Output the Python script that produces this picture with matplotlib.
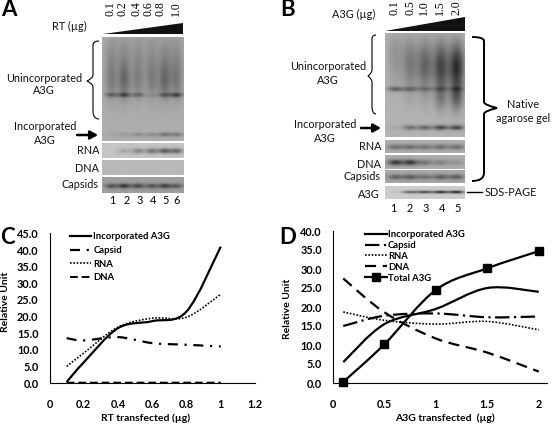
import numpy as np
import matplotlib
matplotlib.use("Agg")
import matplotlib.pyplot as plt
from matplotlib.path import Path
from matplotlib.patches import PathPatch, Polygon

plt.rcParams["font.family"] = ["Lato", "DejaVu Sans"]

# Panel C values
RT_DOSE = [0.1, 0.2, 0.4, 0.6, 0.8, 1.0]
C_INCORP = [0.3, 6.2, 16.5, 18.6, 21.5, 41.0]
C_CAPSID = [13.5, 12.8, 13.8, 12.0, 11.5, 11.0]
C_RNA = [5.0, 9.0, 16.8, 19.5, 19.8, 26.7]
C_DNA = [0.1, 0.1, 0.1, 0.1, 0.1, 0.1]

# Panel D values
A3G_DOSE = [0.1, 0.5, 1.0, 1.5, 2.0]
D_INCORP = [5.5, 15.5, 19.5, 25.0, 24.0]
D_CAPSID = [15.0, 17.7, 18.3, 17.3, 17.5]
D_RNA = [18.7, 16.5, 15.5, 16.2, 14.0]
D_DNA = [27.5, 18.6, 11.7, 8.0, 3.0]
D_TOTAL = [0.3, 10.2, 24.5, 30.2, 34.7]

# Tick labels
C_XTICKS = [0, 0.2, 0.4, 0.6, 0.8, 1.0, 1.2]
C_XLABELS = ["0", "0.2", "0.4", "0.6", "0.8", "1", "1.2"]
C_YTICKS = [0, 5, 10, 15, 20, 25, 30, 35, 40, 45]
D_XTICKS = [0, 0.5, 1.0, 1.5, 2.0]
D_XLABELS = ["0", "0.5", "1", "1.5", "2"]
D_YTICKS = [0, 5, 10, 15, 20, 25, 30, 35, 40]

# Gel dose labels
A_DOSES = ["0.1", "0.2", "0.4", "0.6", "0.8", "1.0"]
B_DOSES = ["0.1", "0.5", "1.0", "1.5", "2.0"]

# Gel band strengths, one per lane (darkness read by eye)
A_SMEAR = [0.18, 0.26, 0.17, 0.18, 0.26, 0.2]
A_FREE = [0.22, 0.3, 0.2, 0.03, 0.22, 0.33]
A_INC = [0.03, 0.07, 0.13, 0.13, 0.22, 0.2]
A_RNA = [0.0, 0.12, 0.25, 0.32, 0.42, 0.36]
A_CAPS = [0.3, 0.42, 0.36, 0.3, 0.38, 0.28]
B_SMEAR = [0.08, 0.2, 0.28, 0.4, 0.5]
B_TAIL = [0.0, 0.03, 0.05, 0.2, 0.3]
B_FREE = [0.3, 0.22, 0.16, 0.14, 0.14]
B_INC = [0.03, 0.26, 0.3, 0.42, 0.42]
B_RNA = [0.25, 0.25, 0.22, 0.25, 0.25]
B_DNA = [0.45, 0.45, 0.22, 0.17, 0.1]
B_CAPS = [0.28, 0.3, 0.22, 0.3, 0.3]
B_SDS = [0.03, 0.45, 0.55, 0.65, 0.7]

A_LANES = [111, 124, 138, 152, 165, 177]
B_LANES = [395, 410, 425, 441, 457]

W, H = 560, 424


# Axes placed by pixel box, y counted from the top
def px_axes(fig, x0, y0, x1, y1):
    return fig.add_axes([x0 / W, 1 - y1 / H, (x1 - x0) / W, (y1 - y0) / H])


# Draws a grey gel strip, bands = (strengths, y center, y sigma, lane sigma)
def gel(pg, box, lanes, base, bands):
    x0, y0, x1, y1 = box
    xx, yy = np.meshgrid(np.arange(x0, x1 + 1), np.arange(y0, y1 + 1))
    img = np.full(xx.shape, float(base))
    for strengths, yc, sy, sx in bands:
        for lx, s in zip(lanes, strengths):
            img -= s * np.exp(-0.5 * ((xx - lx) / sx) ** 2) * np.exp(-0.5 * ((yy - yc) / sy) ** 2)
    pg.imshow(img, cmap="gray", vmin=0, vmax=1, extent=(x0, x1, y1, y0), aspect="auto", interpolation="bilinear")


# Excel style smoothed line, built as bezier segments
def smooth_path(x, y):
    p = np.column_stack([x, y])
    verts = [p[0]]
    codes = [Path.MOVETO]
    for i in range(len(p) - 1):
        prv = p[max(i - 1, 0)]
        nxt = p[min(i + 2, len(p) - 1)]
        verts += [p[i] + (p[i + 1] - prv) / 6, p[i + 1] - (nxt - p[i]) / 6, p[i + 1]]
        codes += [Path.CURVE4] * 3
    return Path(verts, codes)


def add_curve(ax, x, y, label, ls, lw=1.6, marker=None):
    ax.add_patch(PathPatch(smooth_path(x, y), fill=False, ec="k", lw=lw, ls=ls, capstyle="butt", clip_on=False))
    if marker:
        ax.plot(x, y, ls="none", marker=marker, ms=5.5, color="k", clip_on=False, zorder=4)
    ax.plot([], [], color="k", lw=lw, ls=ls, marker=marker, ms=5.5, label=label)


def style_chart(ax, xlim, ylim, xticks, xlabels, yticks):
    ax.patch.set_alpha(0)
    ax.set_xlim(*xlim)
    ax.set_ylim(*ylim)
    ax.spines["top"].set_visible(False)
    ax.spines["right"].set_visible(False)
    ax.set_xticks(xticks, xlabels, fontweight="bold", fontsize=7.8)
    ax.set_yticks(yticks, [f"{v:.1f}" for v in yticks], fontweight="bold", fontsize=7.8)
    ax.tick_params(axis="x", length=0, pad=11.5)
    ax.tick_params(axis="y", length=0, pad=8)


def brace(pg, top, tip, bot, sx, lw=0.8):
    # top/bot are the open ends, sx is the x of the spine
    ymid = tip[1]
    verts = [top, (sx, top[1]), (sx, top[1] + 4), (sx, top[1] + 8),
             (sx, ymid - 6), (sx, ymid - 3), tip,
             (sx, ymid + 3), (sx, ymid + 6), (sx, ymid + 8),
             (sx, bot[1] - 8), (sx, bot[1]), bot]
    codes = [Path.MOVETO] + [Path.CURVE3] * 2 + [Path.LINETO] + [Path.LINETO] + [Path.CURVE3] * 2 + \
            [Path.CURVE3] * 2 + [Path.LINETO] + [Path.LINETO] + [Path.CURVE3] * 2
    pg.add_patch(PathPatch(Path(verts, codes), fill=False, ec="k", lw=lw))


def main():
    fig = plt.figure(figsize=(W / 100, H / 100), dpi=100)
    pg = fig.add_axes([0, 0, 1, 1])
    pg.axis("off")

    # Panel A gels
    gel(pg, (102, 37, 184, 141), A_LANES, 0.68, [
        (A_SMEAR, 80, 14, 4.5), ([0.1] * 6, 52, 14, 5), (A_FREE, 95, 1.6, 4.5), (A_INC, 135, 1.6, 4.5)])
    gel(pg, (102, 143, 184, 158), A_LANES, 0.77, [(A_RNA, 151, 2, 4.5)])
    gel(pg, (102, 160, 184, 175), A_LANES, 0.72, [])
    gel(pg, (102, 177, 184, 193), A_LANES, 0.62, [(A_CAPS, 186, 1.8, 4.5)])

    # Panel B gels
    gel(pg, (385, 33, 465, 137), B_LANES, 0.70, [
        (B_SMEAR, 68, 15, 5.5), (B_TAIL, 97, 10, 4.5), ([0.08] * 5, 48, 12, 5.5), (B_FREE, 89, 1.7, 5.5), (B_INC, 128, 1.8, 5)])
    gel(pg, (385, 140, 465, 153), B_LANES, 0.68, [(B_RNA, 147, 2, 5.5)])
    gel(pg, (385, 155, 465, 169), B_LANES, 0.68, [(B_DNA, 162.5, 2.2, 5.5)])
    gel(pg, (385, 170, 465, 183), B_LANES, 0.66, [(B_CAPS, 177, 2, 5.5)])
    gel(pg, (385, 186, 465, 199), B_LANES, 0.80, [(B_SDS, 192, 1.0, 5.5)])

    pg.set_xlim(0, W)
    pg.set_ylim(H, 0)

    # Wedges
    pg.add_patch(Polygon([(103, 34), (183, 23), (183, 34)], fc="#111111", ec="none"))
    pg.add_patch(Polygon([(385, 31), (465, 17), (465, 31)], fc="#111111", ec="none"))

    # Braces
    brace(pg, (99, 41), (87, 81), (99, 119), 93)
    brace(pg, (376, 35), (368, 76), (376, 114), 372)
    brace(pg, (472, 37), (497, 108), (472, 181), 484, lw=1.4)

    # Arrows
    for x0, x1, y in [(77, 98, 135), (361, 381, 128)]:
        pg.annotate("", xy=(x1, y), xytext=(x0, y),
                    arrowprops=dict(arrowstyle="-|>,head_width=0.25,head_length=0.45", lw=1.8, color="k", shrinkA=0, shrinkB=0))
    pg.plot([467, 482], [192, 192], color="k", lw=1)

    # Panel letters
    for s, x, y in [("A", 1, 10), ("B", 280, 10), ("C", 0, 238), ("D", 279, 238)]:
        pg.text(x, y, s, fontsize=16, fontweight="bold", ha="left", va="center")

    # Gel text
    gel_txt = [
        ("RT (µg)", 69, 26, "center"), ("Unincorporated", 44, 78, "center"), ("A3G", 44, 91, "center"),
        ("Incorporated", 45, 126, "center"), ("A3G", 45, 140, "center"),
        ("RNA", 99, 151, "right"), ("DNA", 99, 168, "right"), ("Capsids", 99, 185, "right"),
        ("A3G (µg)", 354, 14, "center"), ("Unincorporated", 328, 66, "center"), ("A3G", 328, 80, "center"),
        ("Incorporated", 325, 124, "center"), ("A3G", 325, 138, "center"),
        ("RNA", 381, 147, "right"), ("DNA", 381, 164, "right"), ("Capsids", 381, 177, "right"), ("A3G", 380, 194, "right"),
        ("Native", 523, 104, "center"), ("agarose gel", 523, 119, "center"), ("SDS-PAGE", 485, 192, "left"),
    ]
    for s, x, y, ha in gel_txt:
        pg.text(x, y, s, fontsize=7.8, ha=ha, va="center", color="#111111")

    # Lane numbers and doses
    for i, lx in enumerate([112, 127, 140, 153, 166, 177]):
        pg.text(lx, 200, str(i + 1), fontsize=7.8, ha="center", va="center")
    for i, lx in enumerate([393, 410, 426, 442, 458]):
        pg.text(lx, 208, str(i + 1), fontsize=7.8, ha="center", va="center")
    for s, lx in zip(A_DOSES, [110, 122, 136, 149, 161, 176]):
        pg.text(lx, 9, s, fontsize=8.5, family="Liberation Serif", rotation=90, ha="center", va="center")
    for s, lx in zip(B_DOSES, [394, 410, 424, 440, 456]):
        pg.text(lx, 8, s, fontsize=8.5, family="Liberation Serif", rotation=90, ha="center", va="center")

    # Panel C
    ax_c = px_axes(fig, 49.5, 233.4, 255, 383)
    style_chart(ax_c, (0, 1.2), (0, 45), C_XTICKS, C_XLABELS, C_YTICKS)
    add_curve(ax_c, RT_DOSE, C_INCORP, "Incorporated A3G", "-")
    add_curve(ax_c, RT_DOSE, C_CAPSID, "Capsid", (0, (4.5, 3, 1, 3)))
    add_curve(ax_c, RT_DOSE, C_RNA, "RNA", (0, (1, 1)), lw=1.2)
    add_curve(ax_c, RT_DOSE, C_DNA, "DNA", (0, (4, 2)), lw=1.4)
    ax_c.legend(loc="upper left", bbox_to_anchor=(70 / W, 1 - 232.5 / H), bbox_transform=fig.transFigure,
                frameon=False, prop=dict(weight="bold", size=6.8), borderpad=0, borderaxespad=0,
                labelspacing=0.48, handlelength=2.2, handletextpad=0.25)
    pg.text(6, 302, "Relative Unit", fontsize=7.5, fontweight="bold", rotation=90, ha="center", va="center")
    pg.text(146, 418, "RT transfected (µg)", fontsize=7.5, fontweight="bold", ha="center", va="center")

    # Panel D
    ax_d = px_axes(fig, 333, 231, 547, 383)
    style_chart(ax_d, (0, 2.08), (0, 40), D_XTICKS, D_XLABELS, D_YTICKS)
    add_curve(ax_d, A3G_DOSE, D_INCORP, "Incorporated A3G", "-")
    add_curve(ax_d, A3G_DOSE, D_CAPSID, "Capsid", (0, (6.5, 2, 1, 2)))
    add_curve(ax_d, A3G_DOSE, D_RNA, "RNA", (0, (1, 1)), lw=1.2)
    add_curve(ax_d, A3G_DOSE, D_DNA, "DNA", (0, (5, 3)))
    add_curve(ax_d, A3G_DOSE, D_TOTAL, "Total A3G", "-", marker="s")
    ax_d.legend(loc="upper left", bbox_to_anchor=(365 / W, 1 - 230 / H), bbox_transform=fig.transFigure,
                frameon=False, prop=dict(weight="bold", size=6.8), borderpad=0, borderaxespad=0,
                labelspacing=0.2, handlelength=2.3, handletextpad=0.12)
    pg.text(288, 309, "Relative Unit", fontsize=7.5, fontweight="bold", rotation=90, ha="center", va="center")
    pg.text(445, 418, "A3G transfected  (µg)", fontsize=7.5, fontweight="bold", ha="center", va="center")

    fig.savefig("out.png", dpi=100)


if __name__ == "__main__":
    main()
